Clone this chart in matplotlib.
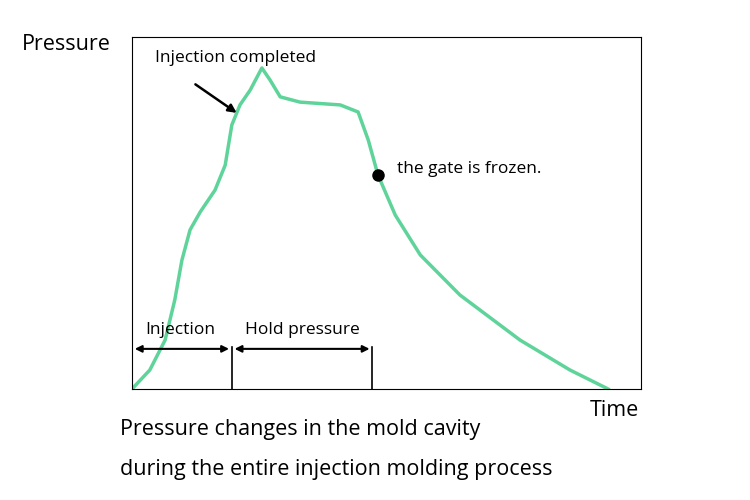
import matplotlib.pyplot as plt

# curve (time, pressure), both in 0..100 units
time = [0, 3.5, 6.5, 8.4, 9.8, 11.4, 13.4, 16.3, 18.3, 19.6, 21.2, 23.2, 25.5,
        27.1, 29.1, 33, 40.9, 44.4, 46.4, 48.3, 51.7, 56.6, 64.4, 76.2, 86, 93.5]
pressure = [0, 5.4, 13.9, 25.3, 36.6, 45.2, 50.3, 56.5, 63.6, 75, 80.7, 84.9, 91.2,
            87.8, 83, 81.5, 80.7, 78.7, 70.7, 60.8, 49.4, 38.1, 26.7, 13.9, 5.4, 0]
inj_end = 19.6
hold_end = 47.2
gate = (48.3, 60.8)

plt.rcParams["font.family"] = "Open Sans"
fig = plt.figure(figsize=(7.5, 5), dpi=100)
ax = fig.add_axes([0.176, 0.222, 0.679, 0.704])
ax.plot(time, pressure, color="#5fd49a", lw=2.5, solid_joinstyle="round")
ax.set_xlim(0, 100)
ax.set_ylim(0, 100)
ax.set_xticks([])
ax.set_yticks([])

ax.plot([inj_end, inj_end], [0, 12], color="black", lw=1.2)
ax.plot([hold_end, hold_end], [0, 12], color="black", lw=1.2)
for a, b in [(0, inj_end), (inj_end, hold_end)]:
    ax.annotate("", xy=(a, 11.4), xytext=(b, 11.4),
                arrowprops=dict(arrowstyle="<|-|>", color="black", lw=1.5, mutation_scale=10))
ax.text(9.5, 14.5, "Injection", ha="center", va="bottom", fontsize=12.5)
ax.text(33.5, 14.5, "Hold pressure", ha="center", va="bottom", fontsize=12.5)

ax.plot(*gate, "o", color="black", ms=8)
ax.text(52, 62.5, "the gate is frozen.", fontsize=12.5, va="center")

ax.annotate("", xy=(21, 78), xytext=(12, 87),
            arrowprops=dict(arrowstyle="-|>", color="black", lw=1.8, mutation_scale=12))
ax.text(4.5, 94, "Injection completed", fontsize=12.5, va="center")

fig.text(0.029, 0.912, "Pressure", fontsize=15.5, va="center")
fig.text(0.786, 0.178, "Time", fontsize=15.5, va="center")
fig.text(0.16, 0.14, "Pressure changes in the mold cavity", fontsize=15.5, va="center")
fig.text(0.16, 0.06, "during the entire injection molding process", fontsize=15.5, va="center")

fig.savefig("out.png", dpi=100)
